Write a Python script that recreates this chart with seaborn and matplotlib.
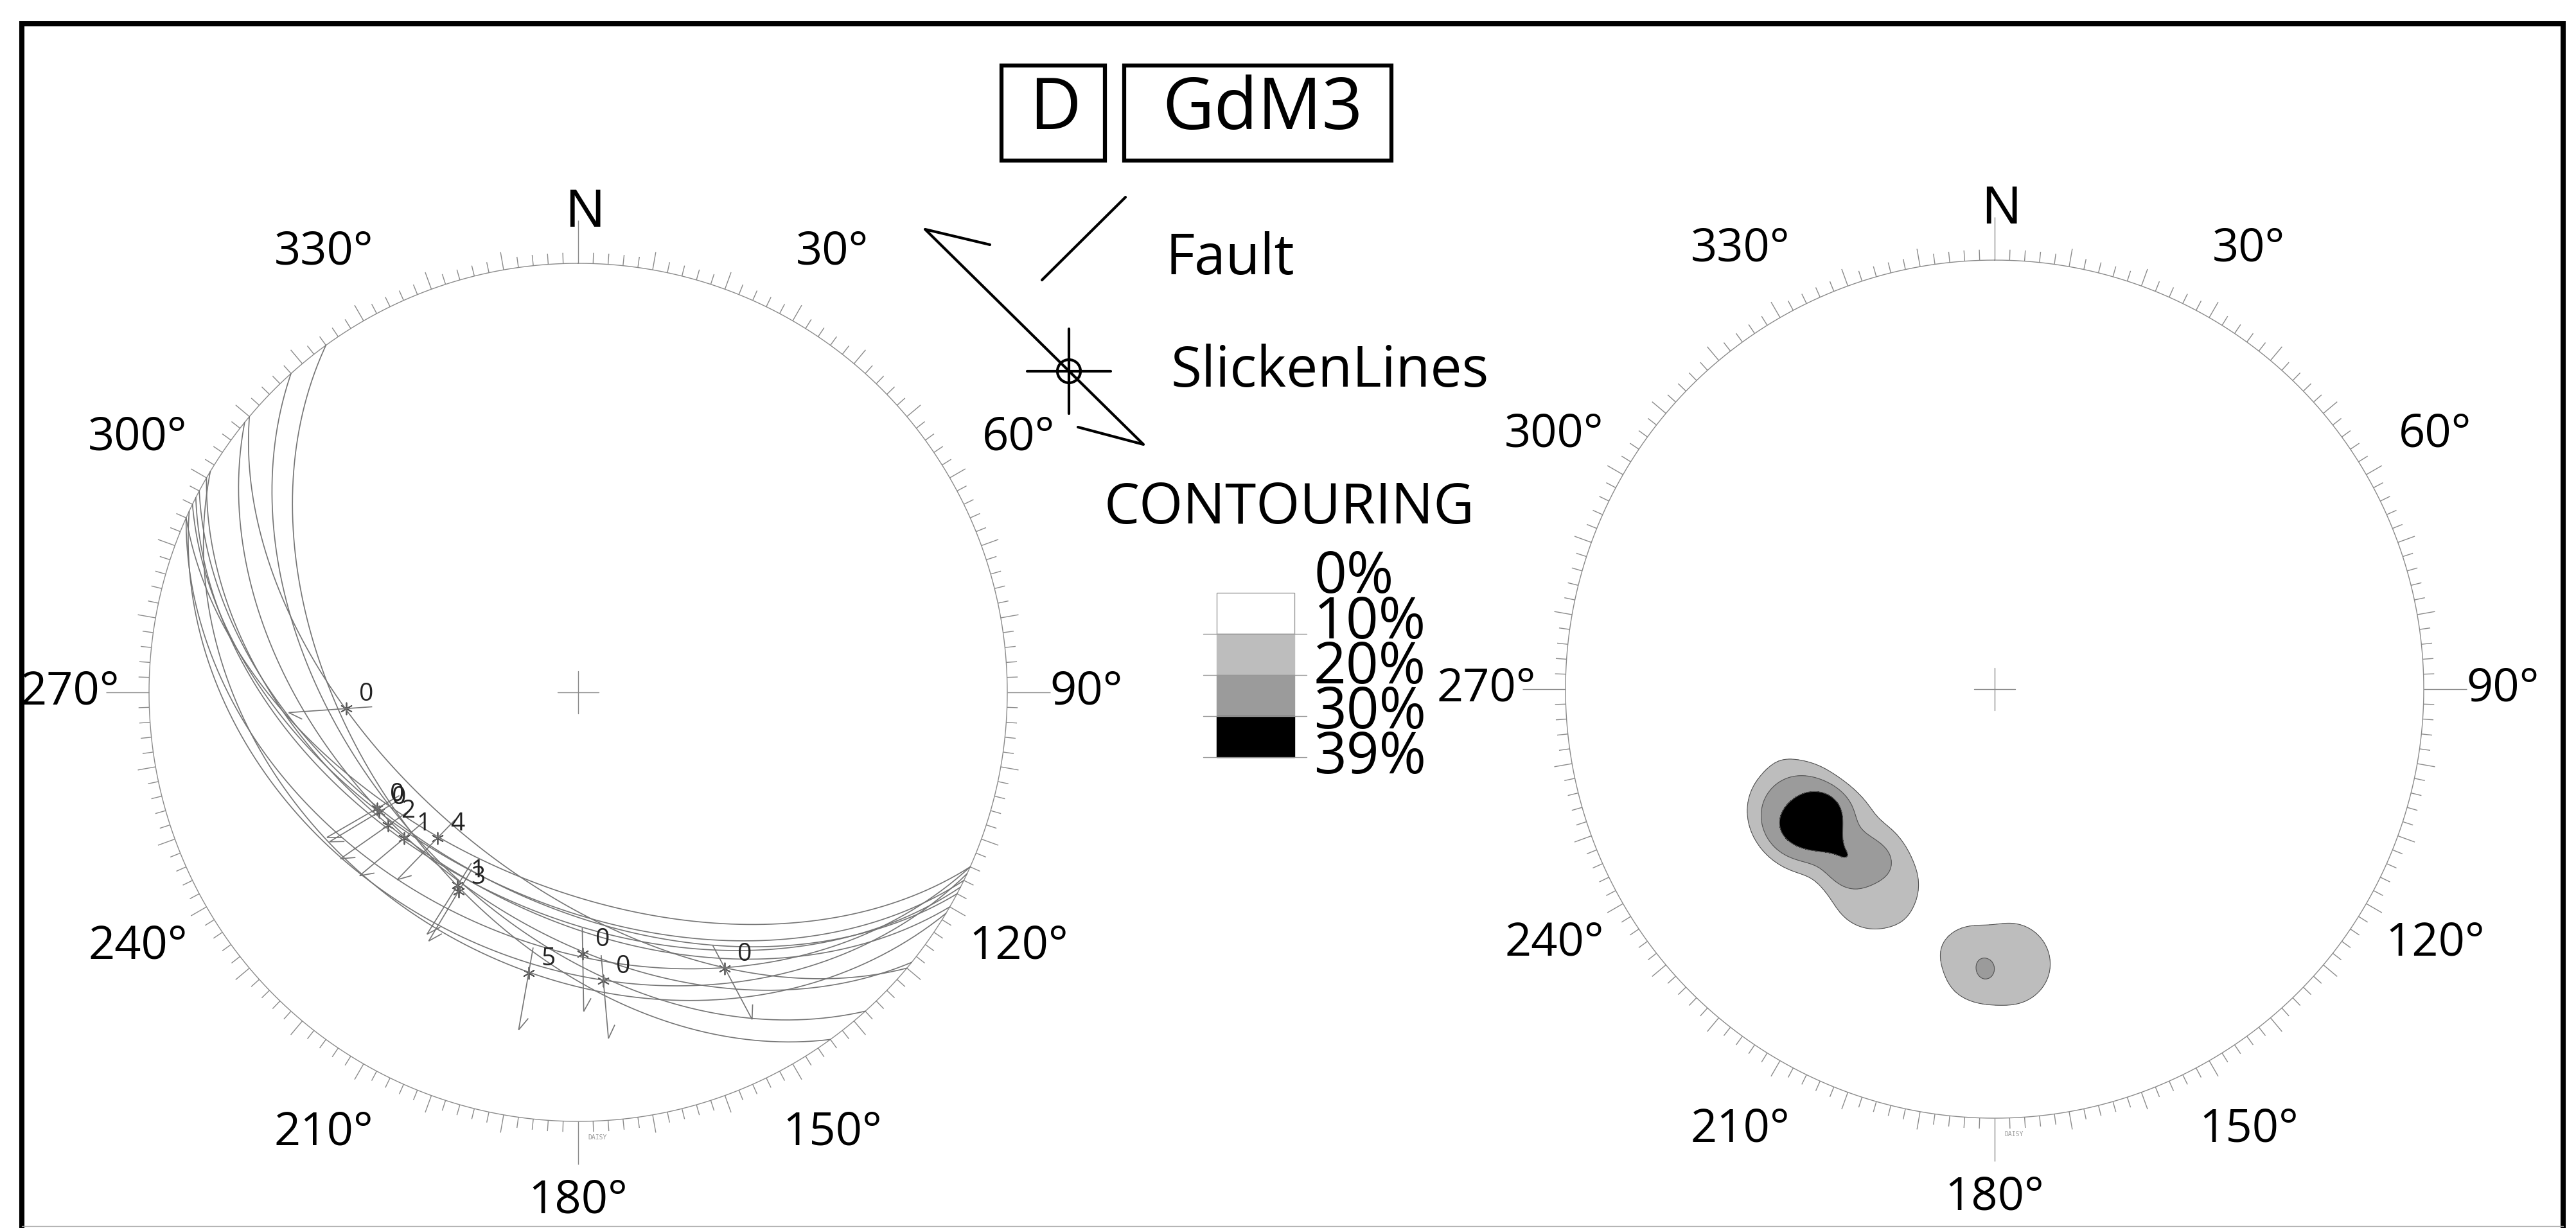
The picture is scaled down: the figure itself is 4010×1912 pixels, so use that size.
import numpy as np
import seaborn as sns
import matplotlib.pyplot as plt
from matplotlib.collections import LineCollection
from matplotlib.patches import Rectangle, Circle

sns.set_theme(style="white")
plt.rcParams['font.family'] = ['Open Sans', 'DejaVu Sans']
plt.rcParams['text.color'] = 'black'

# fault planes, strike / dip (right hand rule)
fault_strike = [130, 116, 118, 120, 117, 114, 138, 144, 121, 129, 115, 114]
fault_dip = [55, 50, 50, 48, 48, 53, 48, 48, 36, 47, 37, 41]

# slickenlines on those planes, trend / plunge, and the number printed beside each
slick_trend = [266, 239, 240, 235, 230, 224, 212, 211, 190, 179, 175, 152]
slick_plunge = [45, 45, 45, 45, 46, 51, 46, 45, 34, 39, 33, 28]
slick_label = ['0', '0', '0', '2', '1', '4', '1', '3', '5', '0', '0', '0']

# contouring of the slickenlines (percent)
contour_levels = [10, 20, 30, 39]
contour_colors = ['#bdbdbd', '#9b9b9b', '#000000']
legend_text = ['0%', '10%', '20%', '30%', '39%']
legend_colors = ['#ffffff', '#bdbdbd', '#9b9b9b', '#000000']

compass_az = [0, 30, 60, 90, 120, 150, 180, 210, 240, 270, 300, 330]
compass_text = ['N', '30°', '60°', '90°', '120°', '150°', '180°', '210°', '240°', '270°', '300°', '330°']

GREY = '#8a8a8a'
ARC = '#747474'


def project(trend, plunge):
    # lower hemisphere, equal area, primitive radius 1
    t = np.radians(np.asarray(trend, float))
    p = np.radians(np.asarray(plunge, float))
    r = np.sqrt(2) * np.sin((np.pi / 2 - p) / 2)
    return r * np.sin(t), r * np.cos(t)


def plane_arc(strike, dip, n=240):
    s = np.radians(strike)
    d = np.radians(dip)
    th = np.linspace(0, np.pi, n)
    vx = np.cos(th) * np.sin(s) + np.sin(th) * np.cos(d) * np.sin(s + np.pi / 2)
    vy = np.cos(th) * np.cos(s) + np.sin(th) * np.cos(d) * np.cos(s + np.pi / 2)
    vz = -np.sin(th) * np.sin(d)
    plunge = np.degrees(np.arcsin(np.clip(-vz, -1, 1)))
    trend = np.degrees(np.arctan2(vx, vy))
    return project(trend, plunge)


def draw_net(ax):
    ax.set_xlim(-1.25, 1.25)
    ax.set_ylim(-1.25, 1.25)
    ax.axis('off')
    t = np.linspace(0, 2 * np.pi, 721)
    ax.plot(np.sin(t), np.cos(t), color=GREY, lw=1.0)
    segs = []
    for a in range(0, 360, 2):
        if a % 90 == 0:
            L = 0.1
        elif a % 10 == 0:
            L = 0.042
        else:
            L = 0.025
        ar = np.radians(a)
        segs.append([(np.sin(ar), np.cos(ar)), ((1 + L) * np.sin(ar), (1 + L) * np.cos(ar))])
    ax.add_collection(LineCollection(segs, colors=GREY, linewidths=1.0))
    ax.plot([-0.048, 0.048], [0, 0], color=GREY, lw=1.0)
    ax.plot([0, 0], [-0.05, 0.05], color=GREY, lw=1.0)
    for az, txt in zip(compass_az, compass_text):
        a = np.radians(az)
        if txt == 'N':
            ax.text(0.015, 1.118, txt, ha='center', va='center', fontsize=60,
                    family=['Liberation Sans', 'DejaVu Sans'])
        else:
            rr = 1.185
            ax.text(rr * np.sin(a), rr * np.cos(a), txt, ha='center', va='center', fontsize=52)
    ax.text(0.045, -1.037, 'DAISY', ha='center', va='center', fontsize=7, color='#999999',
            family=['DejaVu Sans Mono', 'DejaVu Sans'])


fig = plt.figure(figsize=(40.1, 19.12), dpi=100)
W, H = 4010, 1912
R = 668
half = 1.25 * R

# left net: faults + slickenlines
cx, cy = 900, 1078
axL = fig.add_axes([(cx - half) / W, (H - cy - half) / H, 2 * half / W, 2 * half / H])
draw_net(axL)
for s, d in zip(fault_strike, fault_dip):
    x, y = plane_arc(s, d)
    axL.plot(x, y, color=ARC, lw=1.2)

px, py = project(slick_trend, slick_plunge)
segs = []
c, sn = np.cos(np.radians(150)), np.sin(np.radians(150))
for x, y in zip(px, py):
    r = np.hypot(x, y)
    ux, uy = x / r, y / r
    inner = (x - 0.06 * ux, y - 0.06 * uy)
    outer = (x + 0.135 * ux, y + 0.135 * uy)
    bx, by = c * ux - sn * uy, sn * ux + c * uy
    segs.append([inner, outer])
    segs.append([outer, (outer[0] + 0.035 * bx, outer[1] + 0.035 * by)])
axL.add_collection(LineCollection(segs, colors=ARC, linewidths=1.2))
sns.scatterplot(x=px, y=py, ax=axL, marker=(6, 2, 0), s=170, color='#555555',
                linewidth=1.3, legend=False)
for x, y, lab in zip(px, py, slick_label):
    axL.annotate(lab, (x, y), xytext=(31, 22), textcoords='offset pixels',
                 ha='center', va='center', fontsize=28, color='#222222')

# right net: contoured slickenlines (smoothed counting circle)
cx2, cy2 = 3105, 1073
axR = fig.add_axes([(cx2 - half) / W, (H - cy2 - half) / H, 2 * half / W, 2 * half / H])
g = np.linspace(-1, 1, 601)
GX, GY = np.meshgrid(g, g)
h = 0.12
dens = np.zeros_like(GX)
for x, y in zip(px, py):
    d2 = ((GX - x) ** 2 + (GY - y) ** 2) / h ** 2
    dens += np.exp(-d2 ** 2)
pct = dens / dens.max() * contour_levels[-1]
pct[GX ** 2 + GY ** 2 > 1] = np.nan
axR.contourf(GX, GY, pct, levels=contour_levels[:-1] + [contour_levels[-1] + 1],
             colors=contour_colors)
axR.contour(GX, GY, pct, levels=contour_levels[:-1], colors='#555555', linewidths=0.8)
draw_net(axR)

# overlay: frame, title boxes, legend
ov = fig.add_axes([0, 0, 1, 1])
ov.set_xlim(0, W)
ov.set_ylim(H, 0)
ov.axis('off')
ov.patch.set_alpha(0)
ov.plot([34, 34, 3990, 3990], [H, 37, 37, H], color='black', lw=5.8, solid_joinstyle='miter')
ov.plot([34, 3990], [1909, 1909], color='#aaaaaa', lw=1)

ov.add_patch(Rectangle((1559, 102), 161, 148, fill=False, ec='black', lw=4.5))
ov.add_patch(Rectangle((1750, 102), 416, 148, fill=False, ec='black', lw=4.5))
ov.text(1642, 172, 'D', ha='center', va='center', fontsize=80)
ov.text(1965, 172, 'GdM3', ha='center', va='center', fontsize=80)

ov.plot([1752, 1622], [307, 436], color='black', lw=3)
ov.text(1815, 404, 'Fault', ha='left', va='center', fontsize=63)
ov.plot([1541, 1440, 1780, 1678], [381, 357, 692, 665], color='black', lw=3)
ov.add_patch(Circle((1664, 578), 18, fill=False, ec='black', lw=3))
ov.plot([1599, 1729], [578, 578], color='black', lw=3)
ov.plot([1664, 1664], [512, 644], color='black', lw=3)
ov.text(1823, 579, 'SlickenLines', ha='left', va='center', fontsize=63)

ov.text(2007, 792, 'CONTOURING', ha='center', va='center', fontsize=63)
box_top, box_h = 923, 64
for i, col in enumerate(legend_colors):
    ec = '#999999' if i == 0 else col
    ov.add_patch(Rectangle((1894, box_top + i * box_h), 121, box_h, fc=col, ec=ec, lw=1))
    ov.plot([1873, 2034], [box_top + (i + 1) * box_h] * 2, color='#999999', lw=1)
lab_y = np.linspace(900, 1181, len(legend_text))
for y, txt in zip(lab_y, legend_text):
    ov.text(2045, y, txt, ha='left', va='center', fontsize=64)

fig.savefig('out.png', dpi=100, facecolor='white')
